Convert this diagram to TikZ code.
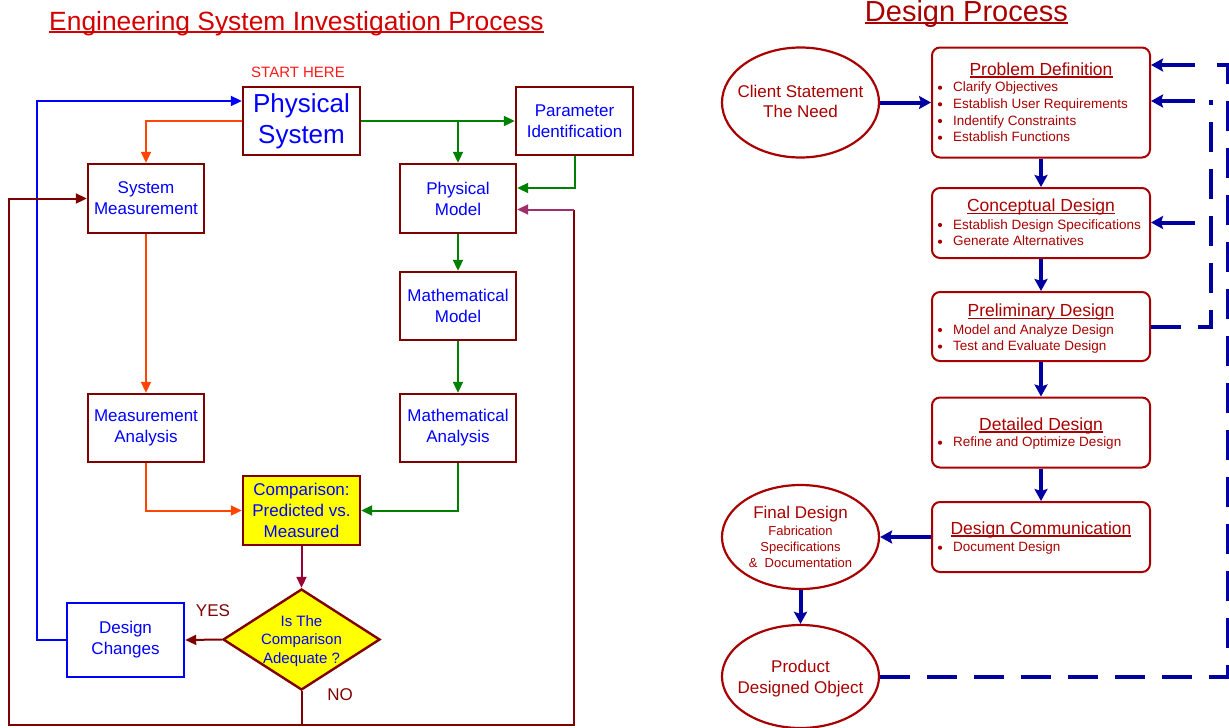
\documentclass[tikz,border=0pt]{standalone}
\usepackage{fontspec}
\setmainfont{Liberation Sans}
\usetikzlibrary{arrows.meta,shapes.geometric}

% colours
\definecolor{boxred}{HTML}{800000}
\definecolor{txtblue}{HTML}{0000FF}
\definecolor{orangeln}{HTML}{FF4500}
\definecolor{greenln}{HTML}{008000}
\definecolor{crimsonln}{HTML}{990033}
\definecolor{mauveln}{HTML}{A0306A}
\definecolor{titlered}{HTML}{D20000}
\definecolor{startred}{HTML}{FF1A1A}
\definecolor{dpred}{HTML}{A80000}
\definecolor{dpblue}{HTML}{0000A0}
\definecolor{cmpyellow}{HTML}{FFFF00}

% underline just below the baseline: #1 drop, #2 rule thickness, #3 text
\newsavebox\ulbox
\newcommand\undertext[3]{\sbox\ulbox{#3}\rlap{\usebox\ulbox}\rule[-#1]{\wd\ulbox}{#2}}

% bulleted item inside a design-process box: #1 name, #2 baseline y, #3 text
\newcommand\bitem[3]{%
  \fill[dpred] (940,#2-4) circle (2.1pt);
  \node[ritem] (#1) at (953,#2) {#3};}

\begin{document}
\begin{tikzpicture}[x=1pt,y=-1pt,
  lbox/.style={draw=boxred, line width=2.4pt, minimum width=116pt, minimum height=68pt,
    inner sep=0pt, text=txtblue, font=\fontsize{17}{21}\selectfont, align=center},
  arr/.style={line width=2pt, -{Triangle[length=11pt,width=10pt]}},
  rbox/.style={draw=dpred, line width=2pt, rounded corners=8pt, minimum width=218pt, inner sep=0pt},
  oval/.style={ellipse, draw=dpred, line width=2.2pt, minimum width=157pt, inner sep=0pt},
  barr/.style={draw=dpblue, line width=4pt, -{Stealth[length=12pt,width=13pt,inset=2pt]}},
  dline/.style={draw=dpblue, line width=4pt, dash pattern=on 30pt off 17pt},
  rtitle/.style={text=dpred, font=\fontsize{17.5}{20}\selectfont, anchor=base, inner sep=0pt},
  ritem/.style={text=dpred, font=\fontsize{13.5}{15}\selectfont, anchor=base west, inner sep=0pt},
  otext/.style={text=dpred, anchor=base, inner sep=0pt},
]
\useasboundingbox (0,0) rectangle (1229,728);

% ---------------- Engineering system investigation process ----------------
\node[text=titlered, font=\fontsize{26.4}{30}\selectfont, anchor=base, inner sep=0pt] (ltitle)
  at (296.5,30.5) {\undertext{2.2pt}{2pt}{Engineering System Investigation Process}};
\node[text=startred, font=\fontsize{15}{17}\selectfont] (start) at (298,72) {START HERE};

\node[lbox, minimum width=117pt, font=\fontsize{26}{31}\selectfont] (ps) at (301.5,121) {Physical\\System};
\node[lbox, minimum width=117pt] (pi) at (574.5,121) {Parameter\\Identification};
\node[lbox, minimum height=69pt] (sm) at (146,198.5) {System\\Measurement};
\node[lbox, minimum height=69pt] (pm) at (458,198.5) {Physical\\Model};
\node[lbox] (mm) at (458,306) {Mathematical\\Model};
\node[lbox] (ma) at (146,428) {Measurement\\Analysis};
\node[lbox] (man) at (458,428) {Mathematical\\Analysis};
\node[lbox, minimum width=117pt, minimum height=69pt, fill=cmpyellow] (cmp) at (301.5,510.5)
  {Comparison:\\Predicted vs.\\Measured};
\node[diamond, draw=boxred, line width=2.4pt, fill=cmpyellow, minimum width=157pt,
  minimum height=101pt, inner sep=0pt] (dec) at (301.5,639.5) {};
\node[text=txtblue, font=\fontsize{15}{18.5}\selectfont, align=center] (dectext) at ([yshift=-1.5pt]dec.center)
  {Is The\\Comparison\\Adequate ?};
\node[lbox, draw=txtblue, minimum width=117pt, minimum height=74pt] (dc) at (125.5,640) {Design\\Changes};
\node[text=boxred, font=\fontsize{17}{20}\selectfont] (yes) at (213,611) {YES};
\node[text=boxred, font=\fontsize{17}{20}\selectfont] (no) at (340,695) {NO};

% connectors
\draw[arr, txtblue] (dc.west) -- ++(-29,0) |- ([yshift=20pt]ps.west);
\draw[arr, orangeln] (ps.west) -| (sm.north);
\draw[arr, orangeln] (sm.south) -- (ma.north);
\draw[arr, orangeln] (ma.south) |- (cmp.west);
\draw[arr, greenln] (ps.east) -- (pi.west);
\draw[arr, greenln] (ps.east -| pm.north) -- (pm.north);
\draw[arr, greenln] (pi.south) |- ([yshift=10.5pt]pm.east);
\draw[arr, greenln] (pm.south) -- (mm.north);
\draw[arr, greenln] (mm.south) -- (man.north);
\draw[arr, greenln] (man.south) |- (cmp.east);
\draw[arr, crimsonln] (cmp.south) -- (dec.north);
\draw[arr, boxred] (dec.west) -- (dc.east);

\coordinate (nb) at (301.5,725);
\coordinate (lc) at (9,725);
\coordinate (rc) at (574,725);
\coordinate (rt) at (574,209.5);
\draw[line width=2pt, boxred] (dec.south) -- (nb);
\draw[arr, boxred] (nb) -- (lc) |- (sm.west);
\draw[line width=2pt, boxred] (nb) -- (rc) -- (rt);
\draw[arr, mauveln] (rt) -- (rt -| pm.east);

% ---------------- Design process ----------------
\node[text=dpred, font=\fontsize{29}{32}\selectfont, anchor=base, inner sep=0pt] (rtitle)
  at (966.5,21.5) {\undertext{2.4pt}{2.2pt}{Design Process}};

\node[oval, minimum height=110pt] (cl) at (800.5,102.5) {};
\node[otext, font=\fontsize{17}{20}\selectfont] (cl1) at (800.5,97) {Client Statement};
\node[otext, font=\fontsize{17}{20}\selectfont] (cl2) at (800.5,117.7) {The Need};

\node[rbox, minimum height=110pt] (pd) at (1041,102.5) {};
\node[rtitle] (pdt) at (1041,75) {\undertext{2.5pt}{1.2pt}{Problem Definition}};
\bitem{pd1}{91.7}{Clarify Objectives}
\bitem{pd2}{108.3}{Establish User Requirements}
\bitem{pd3}{125}{Indentify Constraints}
\bitem{pd4}{141.7}{Establish Functions}

\node[rbox, minimum height=70pt] (cd) at (1041,223) {};
\node[rtitle] (cdt) at (1041,211.7) {\undertext{2.5pt}{1.2pt}{Conceptual Design}};
\bitem{cd1}{229}{Establish Design Specifications}
\bitem{cd2}{245.7}{Generate Alternatives}

\node[rbox, minimum height=69pt] (prl) at (1041,326.5) {};
\node[rtitle] (prlt) at (1041,316.7) {\undertext{2.5pt}{1.2pt}{Preliminary Design}};
\bitem{prl1}{334}{Model and Analyze Design}
\bitem{prl2}{350.6}{Test and Evaluate Design}

\node[rbox, minimum height=70pt] (dd) at (1041,432.5) {};
\node[rtitle] (ddt) at (1041,430) {\undertext{2.5pt}{1.2pt}{Detailed Design}};
\bitem{dd1}{446.7}{Refine and Optimize Design}

\node[rbox, minimum height=70pt] (com) at (1041,537) {};
\node[rtitle] (comt) at (1041,534) {\undertext{2.5pt}{1.2pt}{Design Communication}};
\bitem{com1}{551.7}{Document Design}

\node[oval, minimum height=104pt] (fd) at (800.5,537) {};
\node[otext, font=\fontsize{17}{20}\selectfont] (fd1) at (800.5,518) {Final Design};
\node[otext, font=\fontsize{13}{15}\selectfont] (fd2) at (800.5,535) {Fabrication};
\node[otext, font=\fontsize{13}{15}\selectfont] (fd3) at (800.5,551.7) {Specifications};
\node[otext, font=\fontsize{13}{15}\selectfont] (fd4) at (800.5,567.7) {\&\ \ Documentation};

\node[oval, minimum height=103pt] (prod) at (800.5,676.5) {};
\node[otext, font=\fontsize{17}{20}\selectfont] (prod1) at (800.5,672.5) {Product};
\node[otext, font=\fontsize{17}{20}\selectfont] (prod2) at (800.5,693.5) {Designed Object};

% main flow
\draw[barr] (cl.east) -- (pd.west);
\draw[barr] (pd.south) -- (cd.north);
\draw[barr] (cd.south) -- (prl.north);
\draw[barr] (prl.south) -- (dd.north);
\draw[barr] (dd.south) -- (com.north);
\draw[barr] (com.west) -- (fd.east);
\draw[barr] (fd.south) -- (prod.north);

% feedback loops
\coordinate (oc1) at (1228,676.5);
\coordinate (oc2) at (1228,65);
\coordinate (oc3) at (1211,65);
\draw[dline] (prod.east) -- (oc1) -- (oc2) -- (oc3);
\coordinate (ic1) at (1211,326.5);
\coordinate (ic2) at (1211,100);
\draw[dline] (prl.east) -- (ic1) -- (ic2);
\coordinate (fa1) at (1195,65);
\coordinate (fa2) at (1195,101);
\coordinate (fa3) at (1195,222.5);
\draw[barr] (fa1) -- (fa1 -| pd.east);
\draw[barr] (fa2) -- (fa2 -| pd.east);
\draw[barr] (fa3) -- (fa3 -| cd.east);
\end{tikzpicture}
\end{document}
